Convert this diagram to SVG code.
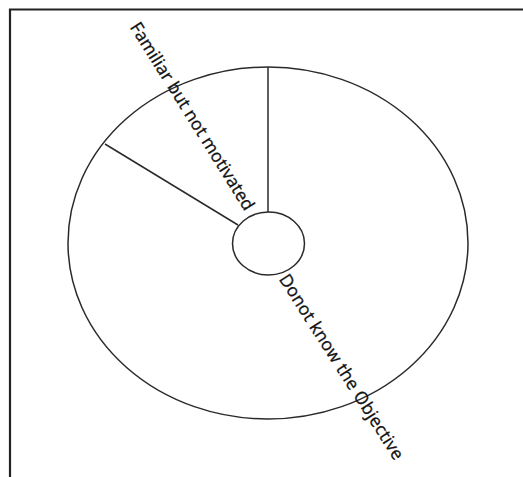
<svg xmlns="http://www.w3.org/2000/svg" width="523" height="477" viewBox="0 0 523 477">
<style>
.ln{fill:none;stroke:#2a2a2a;stroke-width:1.5}
.fr{fill:none;stroke:#222;stroke-width:2.2}
.lbl{font-family:"Open Sans","DejaVu Sans",sans-serif;font-size:17.5px;fill:#111;stroke:#111;stroke-width:0.3}
</style>
<rect width="523" height="477" fill="#fff"/>
<g id="frame">
<path class="fr" d="M10 477 V9.5 H523"/>
</g>
<g id="outer">
<ellipse class="ln" cx="268" cy="243" rx="200" ry="176"/>
</g>
<g id="inner">
<ellipse class="ln" cx="268.5" cy="243.5" rx="36" ry="31.5"/>
</g>
<g id="connectors">
<line class="ln" x1="268" y1="67" x2="268" y2="212"/>
<line class="ln" x1="105" y1="144" x2="238" y2="225"/>
</g>
<g id="label1">
<text class="lbl" transform="translate(129.5 27) rotate(58)" textLength="218">Familiar but not motivated</text>
</g>
<g id="label2">
<text class="lbl" transform="translate(278.5 279) rotate(57.5)" textLength="216">Donot know the Objective</text>
</g>
</svg>
